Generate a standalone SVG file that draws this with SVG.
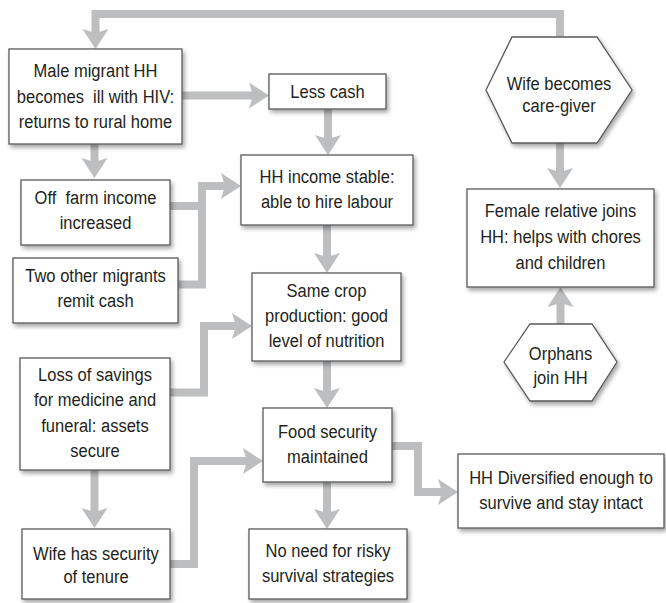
<svg xmlns="http://www.w3.org/2000/svg" width="666" height="603" viewBox="0 0 666 603">
<style>
.box{fill:#fff;stroke:#58595b;stroke-width:1.3;filter:url(#sh)}
.t{font-family:"Liberation Sans",Arial,sans-serif;font-size:19px;fill:#231f20;text-anchor:middle}
.c{fill:none;stroke:#bcbec0;stroke-width:8;stroke-linejoin:miter;marker-end:url(#ah)}
.cn{fill:none;stroke:#bcbec0;stroke-width:8;stroke-linejoin:miter}
</style>
<defs>
<filter id="sh" x="-10%" y="-10%" width="130%" height="140%">
<feDropShadow dx="2" dy="3" stdDeviation="2" flood-color="#000" flood-opacity="0.35"/>
</filter>
<marker id="ah" markerUnits="userSpaceOnUse" viewBox="0 -14 22 28" markerWidth="22" markerHeight="28" refX="4" refY="0" orient="auto">
<path d="M0,-13 L20,0 L0,13 L4,0 Z" fill="#bcbec0"/>
</marker>
</defs>
<rect width="666" height="603" fill="#fff"/>
<g id="connectors">
<path class="c" d="M560,37 V14 H95.5 V33"/>
<path class="c" d="M182,95.5 H253"/>
<path class="c" d="M328,109 V139"/>
<path class="c" d="M327,225 V257"/>
<path class="c" d="M327,361 V392"/>
<path class="c" d="M327,482 V513"/>
<path class="c" d="M94.5,144 V162"/>
<path class="cn" d="M170,206 H202"/>
<path class="c" d="M178,284.5 H202 V186 H225"/>
<path class="c" d="M170,392.5 H204 V326 H236"/>
<path class="c" d="M94.5,470 V512"/>
<path class="c" d="M170,564 H194 V461 H247"/>
<path class="c" d="M392,446 H418 V492 H442"/>
<path class="c" d="M560,143 V172"/>
<path class="c" d="M560.5,324 V303"/>
</g>
<g id="n-male">
<rect class="box" x="9" y="49" width="173" height="95"/>
<text class="t" transform="translate(95.5 0) scale(0.87 1)" xml:space="preserve"><tspan x="0" y="77">Male migrant HH</tspan><tspan x="0" y="103">becomes  ill with HIV:</tspan><tspan x="0" y="128.5">returns to rural home</tspan></text>
</g>
<g id="n-lesscash">
<rect class="box" x="269" y="74" width="117" height="35"/>
<text class="t" transform="translate(327.5 0) scale(0.87 1)"><tspan x="0" y="98.5">Less cash</tspan></text>
</g>
<g id="n-income">
<rect class="box" x="241" y="155" width="172" height="70"/>
<text class="t" transform="translate(327 0) scale(0.87 1)"><tspan x="0" y="183.5">HH income stable:</tspan><tspan x="0" y="208.5">able to hire labour</tspan></text>
</g>
<g id="n-offfarm">
<rect class="box" x="21" y="180" width="149" height="65"/>
<text class="t" transform="translate(95.5 0) scale(0.87 1)" xml:space="preserve"><tspan x="0" y="204.5">Off  farm income</tspan><tspan x="0" y="229.5">increased</tspan></text>
</g>
<g id="n-twoother">
<rect class="box" x="13" y="258" width="165" height="65"/>
<text class="t" transform="translate(95.5 0) scale(0.87 1)"><tspan x="0" y="282">Two other migrants</tspan><tspan x="0" y="307">remit cash</tspan></text>
</g>
<g id="n-samecrop">
<rect class="box" x="252" y="273" width="149" height="88"/>
<text class="t" transform="translate(326.5 0) scale(0.87 1)"><tspan x="0" y="297">Same crop</tspan><tspan x="0" y="322">production: good</tspan><tspan x="0" y="347">level of nutrition</tspan></text>
</g>
<g id="n-loss">
<rect class="box" x="20" y="358" width="150" height="112"/>
<text class="t" transform="translate(95 0) scale(0.87 1)"><tspan x="0" y="381.5">Loss of savings</tspan><tspan x="0" y="406.5">for medicine and</tspan><tspan x="0" y="432">funeral: assets</tspan><tspan x="0" y="457">secure</tspan></text>
</g>
<g id="n-food">
<rect class="box" x="263" y="408" width="129" height="74"/>
<text class="t" transform="translate(327.5 0) scale(0.87 1)"><tspan x="0" y="438.5">Food security</tspan><tspan x="0" y="463">maintained</tspan></text>
</g>
<g id="n-wife">
<rect class="box" x="22" y="529" width="148" height="70"/>
<text class="t" transform="translate(96 0) scale(0.87 1)"><tspan x="0" y="560">Wife has security</tspan><tspan x="0" y="583.5">of tenure</tspan></text>
</g>
<g id="n-noneed">
<rect class="box" x="249" y="529" width="158" height="70"/>
<text class="t" transform="translate(328 0) scale(0.87 1)"><tspan x="0" y="557.5">No need for risky</tspan><tspan x="0" y="582.5">survival strategies</tspan></text>
</g>
<g id="n-diversified">
<rect class="box" x="458" y="454" width="206" height="74"/>
<text class="t" transform="translate(561 0) scale(0.87 1)"><tspan x="0" y="484.5">HH Diversified enough to</tspan><tspan x="0" y="509">survive and stay intact</tspan></text>
</g>
<g id="n-caregiver">
<polygon class="box" points="486,90 512,37 597,37 632,90 597,143 512,143"/>
<text class="t" transform="translate(559 0) scale(0.87 1)"><tspan x="0" y="90">Wife becomes</tspan><tspan x="0" y="112.5">care-giver</tspan></text>
</g>
<g id="n-female">
<rect class="box" x="467" y="189" width="187" height="98"/>
<text class="t" transform="translate(560.5 0) scale(0.87 1)"><tspan x="0" y="217.5">Female relative joins</tspan><tspan x="0" y="243">HH: helps with chores</tspan><tspan x="0" y="269">and children</tspan></text>
</g>
<g id="n-orphans">
<polygon class="box" points="504,362 530,324 592,324 617,362 592,401 530,401"/>
<text class="t" transform="translate(560.5 0) scale(0.87 1)"><tspan x="0" y="360">Orphans</tspan><tspan x="0" y="384">join HH</tspan></text>
</g>
</svg>
